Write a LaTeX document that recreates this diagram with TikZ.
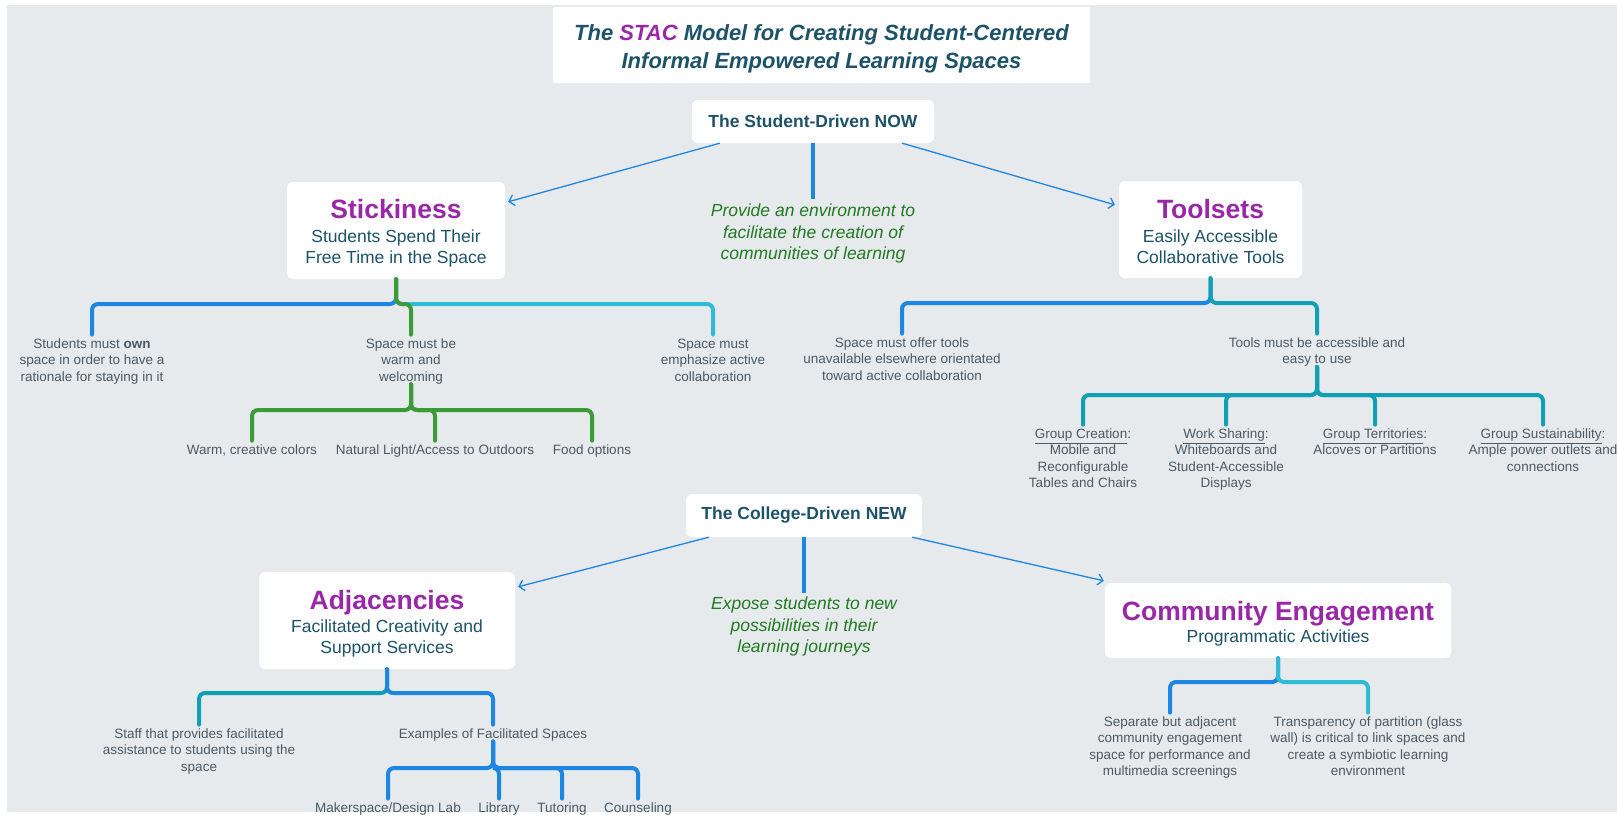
\documentclass[tikz,border=0pt]{standalone}
\usepackage{fontspec}
\setmainfont{Liberation Sans}
\usetikzlibrary{arrows.meta}
\definecolor{bgc}{HTML}{E7EAED}
\definecolor{cblue}{HTML}{1C87E3}
\definecolor{cgreen}{HTML}{3A9B37}
\definecolor{ccyan}{HTML}{2DBCD6}
\definecolor{cteal}{HTML}{0FA0B5}
\definecolor{purp}{HTML}{9A27A8}
\definecolor{dteal}{HTML}{1D5368}
\definecolor{igreen}{HTML}{217A21}
\definecolor{leafc}{HTML}{4B5963}
\newcommand{\brn}[4]{\draw[br,#1] (#2) -- (#2 |- #3) -- (#3 -| #4) -- ([yshift=4pt]#4.north);}
\begin{document}
\begin{tikzpicture}[x=1pt,y=-1pt,
  box/.style={fill=white,draw=none,rounded corners=6pt,inner sep=0pt},
  ttl/.style={anchor=base,inner sep=0pt,text=purp,font=\fontsize{26.5}{30}\selectfont\bfseries},
  sub/.style={anchor=north,inner sep=0pt,text=dteal,align=center,font=\fontsize{17.5}{21}\selectfont},
  hub/.style={box,text=dteal,font=\fontsize{17.5}{21}\selectfont\bfseries},
  mid/.style={anchor=north,inner sep=0pt,text=igreen,align=center,font=\fontsize{17.5}{21.5}\selectfont\itshape},
  leaf/.style={anchor=north,inner sep=0pt,text=leafc,align=center,font=\fontsize{13.5}{16.4}\selectfont},
  br/.style={line width=4pt,rounded corners=6pt,line cap=round},
  arr/.style={draw=cblue,line width=1.3pt,-{Straight Barb[length=5pt,width=11pt]}},
  vline/.style={draw=cblue,line width=4pt}]
\useasboundingbox (0,0) rectangle (1617,817);
\fill[white] (0,0) rectangle (1617,817);
\fill[bgc] (7,5) rectangle (1617,812);

% title
\node[box,rounded corners=1pt,minimum width=537pt,minimum height=76pt] (title) at (821.5,45) {};
\node[anchor=base,inner sep=0pt,text=dteal,font=\fontsize{22}{28}\selectfont\bfseries\itshape] (t1) at (821.5,40) {The \textcolor{purp}{STAC} Model for Creating Student-Centered};
\node[anchor=base,inner sep=0pt,text=dteal,font=\fontsize{22}{28}\selectfont\bfseries\itshape] (t2) at (821.5,68) {Informal Empowered Learning Spaces};

% hubs
\node[hub,minimum width=242pt,minimum height=43pt] (now) at (813,121.5) {The Student-Driven NOW};
\node[hub,minimum width=236pt,minimum height=43pt] (new) at (804,515.5) {The College-Driven NEW};

% main boxes
\node[box,minimum width=218pt,minimum height=97pt] (stick) at (396,230.5) {};
\node[ttl] (stickT) at (396,218.5) {Stickiness};
\node[sub] (stickS) at (396,230) {Students Spend Their\\Free Time in the Space};

\node[box,minimum width=183pt,minimum height=97pt] (tools) at (1210.5,229.5) {};
\node[ttl] (toolsT) at (1210.5,218.5) {Toolsets};
\node[sub] (toolsS) at (1210.5,230) {Easily Accessible\\Collaborative Tools};

\node[box,minimum width=256pt,minimum height=97pt] (adj) at (387,620.5) {};
\node[ttl] (adjT) at (387,609.5) {Adjacencies};
\node[sub] (adjS) at (387,620) {Facilitated Creativity and\\Support Services};

\node[box,minimum width=346pt,minimum height=75pt] (comm) at (1278,620.5) {};
\node[ttl] (commT) at (1278,620.5) {Community Engagement};
\node[sub] (commS) at (1278,630) {Programmatic Activities};

% middle texts
\node[mid] (prov) at (813,204) {Provide an environment to\\facilitate the creation of\\communities of learning};
\node[mid] (expo) at (804,597) {Expose students to new\\possibilities in their\\learning journeys};

% arrows and vertical lines
\draw[arr] ([xshift=28pt]now.south west) -- ([xshift=3pt,yshift=-20pt]stick.north east);
\draw[arr] ([xshift=-32pt]now.south east) -- ([xshift=-4pt,yshift=-24pt]tools.north west);
\draw[vline] (now.south) -- ([yshift=5pt]prov.north);
\draw[arr] ([xshift=23pt]new.south west) -- ([xshift=3pt,yshift=-15pt]adj.north east);
\draw[arr] ([xshift=-10pt]new.south east) -- ([xshift=-1pt,yshift=2pt]comm.north west);
\draw[vline] (new.south) -- ([yshift=4pt]expo.north);

% leaves
\node[leaf] (own) at (92,338.6) {Students must \textbf{own}\\space in order to have a\\rationale for staying in it};
\node[leaf] (warm) at (411,338.6) {Space must be\\warm and\\welcoming};
\node[leaf] (collab) at (713,338.6) {Space must\\emphasize active\\collaboration};
\node[leaf] (colors) at (252,444.6) {Warm, creative colors};
\node[leaf] (natural) at (435,444.6) {Natural Light/Access to Outdoors};
\node[leaf] (food) at (592,444.6) {Food options};

\node[leaf] (offer) at (902,337.6) {Space must offer tools\\unavailable elsewhere orientated\\toward active collaboration};
\node[leaf] (access) at (1317,337.6) {Tools must be accessible and\\easy to use};
\node[leaf] (gc) at (1083,428.6) {\underline{Group Creation}:\\Mobile and\\Reconfigurable\\Tables and Chairs};
\node[leaf] (ws) at (1226,428.6) {\underline{Work Sharing}:\\Whiteboards and\\Student-Accessible\\Displays};
\node[leaf] (gt) at (1375,428.6) {\underline{Group Territories}:\\Alcoves or Partitions};
\node[leaf] (gs) at (1543,428.6) {\underline{Group Sustainability}:\\Ample power outlets and\\connections};

\node[leaf] (staff) at (199,728.6) {Staff that provides facilitated\\assistance to students using the\\space};
\node[leaf] (examples) at (493,728.6) {Examples of Facilitated Spaces};
\node[leaf] (maker) at (388,802.6) {Makerspace/Design Lab};
\node[leaf] (library) at (499,802.6) {Library};
\node[leaf] (tutoring) at (562,802.6) {Tutoring};
\node[leaf] (counsel) at (638,802.6) {Counseling};

\node[leaf] (separate) at (1170,716.6) {Separate but adjacent\\community engagement\\space for performance and\\multimedia screenings};
\node[leaf] (transp) at (1368,716.6) {Transparency of partition (glass\\wall) is critical to link spaces and\\create a symbiotic learning\\environment};

% bar levels
\coordinate (bS) at (0,304);
\coordinate (bW) at (0,410);
\coordinate (bT) at (0,303);
\coordinate (bA) at (0,395);
\coordinate (bD) at (0,693);
\coordinate (bE) at (0,768);
\coordinate (bC) at (0,682);

% branches
\brn{cblue}{stick.south}{bS}{own}
\brn{ccyan}{stick.south}{bS}{collab}
\brn{cgreen}{stick.south}{bS}{warm}
\brn{cgreen}{warm.south}{bW}{colors}
\brn{cgreen}{warm.south}{bW}{food}
\brn{cgreen}{warm.south}{bW}{natural}

\brn{cblue}{tools.south}{bT}{offer}
\brn{cteal}{tools.south}{bT}{access}
\brn{cteal}{access.south}{bA}{gc}
\brn{cteal}{access.south}{bA}{ws}
\brn{cteal}{access.south}{bA}{gt}
\brn{cteal}{access.south}{bA}{gs}

\brn{cteal}{adj.south}{bD}{staff}
\brn{cblue}{adj.south}{bD}{examples}
\brn{cblue}{examples.south}{bE}{maker}
\brn{cblue}{examples.south}{bE}{library}
\brn{cblue}{examples.south}{bE}{tutoring}
\brn{cblue}{examples.south}{bE}{counsel}

\brn{cblue}{comm.south}{bC}{separate}
\brn{ccyan}{comm.south}{bC}{transp}
\end{tikzpicture}
\end{document}
